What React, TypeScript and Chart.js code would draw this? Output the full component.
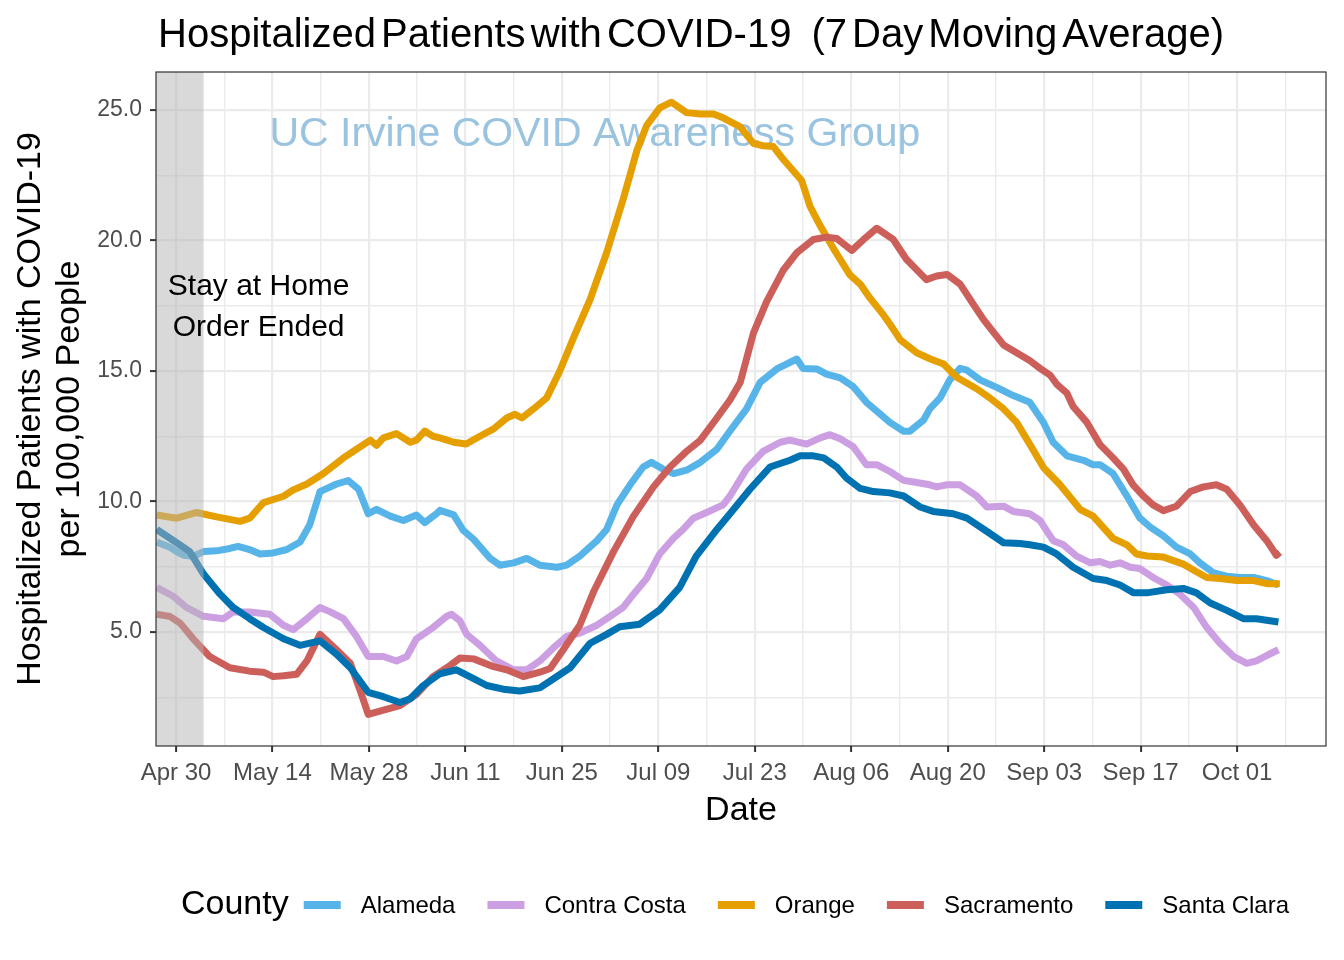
import React, { useEffect, useRef } from "react";
import { Chart, registerables } from "chart.js";

Chart.register(...registerables);

// x values are days since Apr 30, 2020
const xTickLabels = ["Apr 30", "May 14", "May 28", "Jun 11", "Jun 25", "Jul 09", "Jul 23", "Aug 06", "Aug 20", "Sep 03", "Sep 17", "Oct 01"];
const xTickDays = [0, 14, 28, 42, 56, 70, 84, 98, 112, 126, 140, 154];
const xMinorDays = [7, 21, 35, 49, 63, 77, 91, 105, 119, 133, 147, 161];
const yMajorTicks = [5, 10, 15, 20, 25];
const yMinorTicks = [2.5, 7.5, 12.5, 17.5, 22.5];

const counties = ["Alameda", "Contra Costa", "Orange", "Sacramento", "Santa Clara"];
const countyColors = ["#56B4E9", "#CC9FE3", "#E69F00", "#CD5F5A", "#0072B2"];

const alameda: [number, number][] = [
  [-2.8, 8.45], [-0.9, 8.25], [0.1, 8.08], [1.1, 7.94], [2.5, 7.9], [4.0, 8.08], [5.9, 8.11], [7.8, 8.2], [9.0, 8.28],
  [10.7, 8.16], [12.2, 7.99], [14.1, 8.03], [16.1, 8.16], [18.0, 8.45], [19.4, 9.1], [20.9, 10.38], [23.3, 10.67],
  [25.0, 10.8], [26.5, 10.47], [27.9, 9.53], [29.1, 9.7], [31.1, 9.44], [33.0, 9.27], [34.9, 9.48], [36.1, 9.19],
  [37.8, 9.53], [38.3, 9.66], [40.3, 9.49], [41.7, 8.89], [43.2, 8.55], [45.6, 7.82], [47.0, 7.56], [49.0, 7.65],
  [50.9, 7.82], [52.8, 7.56], [55.3, 7.48], [56.7, 7.56], [58.6, 7.91], [61.1, 8.5], [62.5, 8.93], [64.0, 9.87],
  [65.9, 10.64], [67.8, 11.32], [69.0, 11.5], [70.7, 11.24], [72.2, 11.07], [74.1, 11.2], [76.1, 11.5], [78.5, 12.0],
  [80.4, 12.7], [82.8, 13.55], [84.8, 14.57], [87.2, 15.08], [90.1, 15.46], [91.0, 15.1], [93.0, 15.08], [94.4, 14.88],
  [96.4, 14.74], [98.3, 14.4], [100.2, 13.8], [101.7, 13.46], [103.6, 13.03], [105.6, 12.69], [106.5, 12.69],
  [108.5, 13.12], [109.4, 13.55], [110.9, 13.97], [112.3, 14.66], [113.8, 15.1], [114.8, 15.03], [116.7, 14.66],
  [119.1, 14.37], [121.5, 14.06], [123.9, 13.8], [125.9, 13.03], [127.3, 12.27], [129.3, 11.75], [131.7, 11.58],
  [133.1, 11.41], [134.1, 11.41], [136.0, 11.07], [138.0, 10.21], [139.9, 9.36], [141.4, 9.02], [143.3, 8.68],
  [145.2, 8.25], [147.2, 7.99], [148.6, 7.65], [150.6, 7.26], [152.5, 7.14], [154.4, 7.09], [156.4, 7.09],
  [158.3, 6.97], [160.0, 6.8],
];

const contraCosta: [number, number][] = [
  [-2.8, 6.71], [-0.4, 6.37], [1.5, 5.94], [4.0, 5.6], [6.9, 5.51], [8.3, 5.77], [10.7, 5.77], [13.6, 5.68],
  [15.6, 5.26], [17.0, 5.09], [19.0, 5.51], [20.9, 5.94], [22.4, 5.77], [24.3, 5.51], [26.2, 4.83], [27.9, 4.06],
  [30.1, 4.06], [32.0, 3.89], [33.5, 4.06], [34.9, 4.74], [37.3, 5.17], [39.3, 5.6], [40.0, 5.68], [41.2, 5.43],
  [42.2, 4.91], [44.1, 4.49], [46.5, 3.89], [49.0, 3.55], [50.9, 3.55], [52.8, 3.89], [54.8, 4.4], [56.7, 4.83],
  [58.6, 4.96], [61.1, 5.26], [63.0, 5.6], [64.9, 5.94], [66.4, 6.45], [68.3, 7.05], [70.2, 7.99], [72.2, 8.59],
  [73.6, 8.93], [75.1, 9.36], [77.0, 9.58], [79.4, 9.87], [80.4, 10.21], [82.8, 11.24], [85.2, 11.92], [87.7, 12.27],
  [89.1, 12.35], [91.5, 12.2], [93.5, 12.44], [94.9, 12.56], [96.4, 12.4], [98.3, 12.1], [100.2, 11.41],
  [101.7, 11.41], [103.6, 11.15], [105.6, 10.81], [107.5, 10.73], [109.4, 10.64], [110.4, 10.56], [111.9, 10.64],
  [113.8, 10.64], [116.2, 10.21], [117.7, 9.79], [120.1, 9.82], [121.5, 9.62], [123.9, 9.53], [125.4, 9.27],
  [127.3, 8.5], [128.8, 8.34], [130.7, 7.91], [132.7, 7.65], [134.1, 7.7], [135.6, 7.56], [137.0, 7.65],
  [138.5, 7.48], [139.9, 7.43], [141.8, 7.09], [143.8, 6.8], [145.7, 6.45], [147.7, 5.94], [149.6, 5.17],
  [151.5, 4.57], [153.5, 4.06], [155.4, 3.8], [156.8, 3.89], [158.3, 4.1], [160.0, 4.32],
];

const orange: [number, number][] = [
  [-2.8, 9.48], [0.1, 9.36], [3.0, 9.58], [5.9, 9.41], [9.3, 9.24], [10.7, 9.36], [12.7, 9.96], [15.6, 10.2],
  [17.0, 10.44], [19.0, 10.67], [21.4, 11.07], [24.3, 11.67], [26.2, 12.0], [28.2, 12.35], [29.1, 12.15],
  [30.1, 12.44], [32.0, 12.6], [34.0, 12.27], [34.9, 12.35], [36.1, 12.7], [37.3, 12.5], [38.3, 12.44],
  [40.3, 12.27], [42.1, 12.2], [44.1, 12.5], [46.1, 12.78], [48.0, 13.2], [49.2, 13.34], [50.2, 13.2],
  [51.9, 13.55], [53.8, 13.97], [55.7, 15.0], [57.7, 16.28], [60.1, 17.74], [62.5, 19.53], [64.9, 21.58],
  [66.9, 23.46], [68.3, 24.4], [70.2, 25.08], [71.9, 25.3], [74.1, 24.9], [76.1, 24.85], [78.0, 24.85],
  [79.4, 24.7], [81.9, 24.35], [83.8, 23.72], [85.2, 23.63], [86.7, 23.6], [88.1, 23.12], [90.8, 22.3],
  [92.0, 21.32], [93.5, 20.56], [95.4, 19.7], [97.8, 18.68], [99.3, 18.33], [100.7, 17.8], [102.7, 17.14],
  [103.6, 16.8], [105.1, 16.2], [107.5, 15.7], [109.4, 15.47], [111.4, 15.27], [113.3, 14.76], [116.2, 14.32],
  [118.1, 13.97], [120.1, 13.55], [122.0, 13.03], [123.9, 12.2], [125.9, 11.3], [128.3, 10.64], [131.2, 9.7],
  [133.1, 9.44], [136.0, 8.59], [138.0, 8.34], [139.4, 7.99], [140.9, 7.91], [143.3, 7.87], [146.2, 7.6],
  [148.1, 7.31], [149.6, 7.09], [151.5, 7.05], [154.0, 6.97], [156.4, 6.97], [158.3, 6.85], [160.2, 6.85],
];

const sacramento: [number, number][] = [
  [-2.8, 5.68], [-0.9, 5.6], [0.6, 5.34], [2.5, 4.74], [4.9, 4.06], [7.8, 3.63], [10.7, 3.5], [12.7, 3.46],
  [14.1, 3.29], [15.6, 3.32], [17.5, 3.38], [19.0, 3.89], [20.9, 4.91], [23.3, 4.32], [25.3, 3.8], [26.7, 2.78],
  [27.9, 1.84], [30.1, 2.01], [32.5, 2.18], [34.9, 2.61], [37.3, 3.29], [39.8, 3.72], [41.2, 4.0], [43.2, 3.97],
  [46.1, 3.67], [48.0, 3.55], [50.4, 3.29], [52.8, 3.46], [54.3, 3.6], [56.2, 4.32], [58.6, 5.26], [60.6, 6.54],
  [63.5, 8.08], [66.4, 9.44], [69.3, 10.56], [71.7, 11.32], [74.1, 11.92], [76.1, 12.35], [78.5, 13.2],
  [80.4, 13.89], [81.9, 14.57], [83.8, 16.45], [85.7, 17.65], [88.1, 18.85], [90.1, 19.53], [92.5, 20.04],
  [94.4, 20.13], [95.9, 20.08], [98.1, 19.62], [99.8, 20.04], [101.7, 20.47], [104.1, 20.04], [106.0, 19.28],
  [108.9, 18.5], [110.4, 18.64], [111.9, 18.7], [113.8, 18.33], [115.7, 17.56], [117.2, 16.97], [118.6, 16.5],
  [120.1, 16.0], [122.0, 15.7], [123.9, 15.4], [125.4, 15.1], [126.9, 14.83], [127.8, 14.5], [129.3, 14.15],
  [130.2, 13.64], [132.2, 13.03], [134.1, 12.18], [136.0, 11.67], [137.5, 11.24], [138.9, 10.64], [140.4, 10.21],
  [141.8, 9.87], [143.3, 9.65], [145.2, 9.82], [147.2, 10.38], [149.1, 10.56], [151.0, 10.64], [152.5, 10.47],
  [154.4, 9.87], [156.4, 9.1], [158.3, 8.5], [159.7, 7.94], [160.2, 8.05],
];

const santaClara: [number, number][] = [
  [-2.8, 8.93], [0.1, 8.42], [2.0, 8.08], [4.0, 7.22], [6.4, 6.45], [8.3, 5.94], [10.7, 5.51], [12.7, 5.17],
  [15.6, 4.74], [18.0, 4.49], [20.9, 4.66], [23.3, 4.15], [25.3, 3.63], [27.9, 2.69], [30.1, 2.52], [32.5, 2.3],
  [34.0, 2.44], [35.9, 2.95], [38.3, 3.4], [40.7, 3.55], [43.2, 3.21], [45.1, 2.95], [47.5, 2.81], [49.9, 2.74],
  [52.8, 2.86], [54.8, 3.21], [57.2, 3.63], [60.1, 4.57], [62.5, 4.91], [64.4, 5.2], [67.3, 5.3], [70.2, 5.85],
  [73.1, 6.71], [75.5, 7.91], [78.5, 8.93], [80.4, 9.53], [83.3, 10.47], [86.2, 11.32], [89.1, 11.58],
  [90.6, 11.75], [92.5, 11.75], [94.0, 11.67], [95.9, 11.32], [97.3, 10.9], [99.3, 10.5], [101.2, 10.38],
  [103.6, 10.33], [105.6, 10.21], [108.0, 9.79], [109.9, 9.62], [112.8, 9.53], [114.8, 9.36], [117.7, 8.85],
  [120.1, 8.42], [122.5, 8.39], [123.9, 8.34], [125.9, 8.25], [127.8, 7.99], [130.2, 7.48], [133.1, 7.05],
  [135.1, 6.97], [137.0, 6.8], [139.0, 6.5], [140.9, 6.5], [143.8, 6.62], [146.2, 6.67], [148.1, 6.5],
  [150.1, 6.11], [152.5, 5.83], [154.9, 5.51], [156.8, 5.51], [160.0, 5.38],
];

const seriesData = [alameda, contraCosta, orange, sacramento, santaClara];

const titleMain = "Hospitalized Patients with COVID-19";
const titleSub = "(7 Day Moving Average)";
const yTitleLines = ["Hospitalized Patients with COVID-19", "per 100,000 People"];
const xTitleText = "Date";
const watermarkText = "UC Irvine COVID Awareness Group";
const annotationLines = ["Stay at Home", "Order Ended"];
const legendTitle = "County";
const stayAtHomeEndDay = 4;

const FONT = "'Liberation Sans', Arial, Helvetica, sans-serif";

const setWordSpacing = (ctx: any, v: string) => {
  try {
    ctx.wordSpacing = v;
  } catch (e) {
    /* ignore */
  }
};

const decorPlugin = {
  id: "decor",
  beforeDraw(chart: any) {
    const { ctx, width, height } = chart;
    ctx.save();
    ctx.fillStyle = "#ffffff";
    ctx.fillRect(0, 0, width, height);
    ctx.restore();
  },
  beforeDatasetsDraw(chart: any) {
    const { ctx, scales } = chart;
    ctx.save();
    ctx.font = `41px ${FONT}`;
    ctx.fillStyle = "#9AC3DF";
    ctx.textAlign = "center";
    ctx.textBaseline = "alphabetic";
    ctx.fillText(watermarkText, scales.x.getPixelForValue(60.8), scales.y.getPixelForValue(24.23) + 16);
    ctx.restore();
  },
  afterDatasetsDraw(chart: any) {
    const { ctx, chartArea, scales } = chart;
    ctx.save();
    // shaded stay-at-home period
    const xr = scales.x.getPixelForValue(stayAtHomeEndDay);
    ctx.fillStyle = "rgba(179,179,179,0.5)";
    ctx.fillRect(chartArea.left, chartArea.top, xr - chartArea.left, chartArea.bottom - chartArea.top);
    // annotation
    ctx.font = `30px ${FONT}`;
    ctx.fillStyle = "#000000";
    ctx.textAlign = "center";
    ctx.textBaseline = "middle";
    const ax = scales.x.getPixelForValue(12);
    const ay = scales.y.getPixelForValue(17.45);
    ctx.fillText(annotationLines[0], ax, ay - 20.5);
    ctx.fillText(annotationLines[1], ax, ay + 20.5);
    // panel border
    ctx.strokeStyle = "#333333";
    ctx.lineWidth = 1.2;
    ctx.strokeRect(chartArea.left, chartArea.top, chartArea.right - chartArea.left, chartArea.bottom - chartArea.top);
    ctx.restore();
  },
  afterDraw(chart: any) {
    const { ctx, chartArea } = chart;
    ctx.save();
    // title
    ctx.font = `40px ${FONT}`;
    ctx.fillStyle = "#000000";
    ctx.textAlign = "left";
    ctx.textBaseline = "alphabetic";
    setWordSpacing(ctx, "-6px");
    const tx = chartArea.left + 2;
    ctx.fillText(titleMain, tx, 47);
    const mainW = ctx.measureText(titleMain).width;
    ctx.fillText(titleSub, tx + mainW + 20, 47);
    setWordSpacing(ctx, "0px");
    // y title
    const cy = (chartArea.top + chartArea.bottom) / 2;
    ctx.font = `34px ${FONT}`;
    ctx.textAlign = "center";
    ctx.textBaseline = "middle";
    ctx.save();
    ctx.translate(31, cy);
    ctx.rotate(-Math.PI / 2);
    ctx.fillText(yTitleLines[0], 0, 0);
    ctx.restore();
    ctx.save();
    ctx.translate(70, cy);
    ctx.rotate(-Math.PI / 2);
    ctx.fillText(yTitleLines[1], 0, 0);
    ctx.restore();
    // x title
    ctx.fillText(xTitleText, (chartArea.left + chartArea.right) / 2, 811);
    // legend
    const keyW = 37;
    const gapTitle = 15;
    const gapKeyText = 20;
    const gapItem = 32;
    ctx.font = `34px ${FONT}`;
    const titleW = ctx.measureText(legendTitle).width;
    ctx.font = `24px ${FONT}`;
    const labelWs = counties.map((c) => ctx.measureText(c).width);
    let total = titleW + gapTitle;
    labelWs.forEach((w, i) => {
      total += keyW + gapKeyText + w + (i < labelWs.length - 1 ? gapItem : 0);
    });
    let lx = 735 - total / 2;
    const ly = 905;
    ctx.textAlign = "left";
    ctx.textBaseline = "middle";
    ctx.font = `34px ${FONT}`;
    ctx.fillText(legendTitle, lx, ly);
    lx += titleW + gapTitle;
    ctx.font = `24px ${FONT}`;
    counties.forEach((c, i) => {
      ctx.fillStyle = countyColors[i];
      ctx.fillRect(lx, ly - 4, keyW, 8);
      lx += keyW + gapKeyText;
      ctx.fillStyle = "#000000";
      ctx.fillText(c, lx, ly + 1);
      lx += labelWs[i] + gapItem;
    });
    ctx.restore();
  },
};

const xLabelFor = (v: number) => {
  const i = xTickDays.indexOf(v);
  return i >= 0 ? xTickLabels[i] : "";
};
const isXMajor = (v: number) => xTickDays.indexOf(v) >= 0;
const isYMajor = (v: number) => yMajorTicks.indexOf(v) >= 0;

export default function App() {
  const ref = useRef<HTMLCanvasElement | null>(null);
  useEffect(() => {
    document.body.style.margin = "0";
    const canvas = ref.current;
    if (!canvas) return;
    const datasets = counties.map((name, i) => ({
      label: name,
      data: seriesData[i].map(([x, y]) => ({ x, y })),
      borderColor: countyColors[i],
      backgroundColor: countyColors[i],
      borderWidth: 7,
      pointRadius: 0,
      tension: 0,
      fill: false,
      borderJoinStyle: "round" as const,
      borderCapStyle: "butt" as const,
      order: counties.length - 1 - i,
    }));
    const chart = new Chart(canvas, {
      type: "line",
      data: { datasets },
      plugins: [decorPlugin],
      options: {
        animation: false,
        responsive: false,
        devicePixelRatio: 1,
        layout: { padding: { top: 72, right: 18, left: 0, bottom: 0 } },
        plugins: { legend: { display: false }, tooltip: { enabled: false }, title: { display: false } },
        scales: {
          x: {
            type: "linear",
            min: -2.9,
            max: 166.9,
            afterBuildTicks: (scale: any) => {
              const vals = [...xTickDays, ...xMinorDays].sort((a, b) => a - b);
              scale.ticks = vals.map((v) => ({ value: v }));
            },
            afterFit: (scale: any) => {
              scale.height = 214;
            },
            ticks: {
              autoSkip: false,
              maxRotation: 0,
              minRotation: 0,
              padding: 7,
              color: "#4D4D4D",
              font: { family: FONT, size: 24 },
              callback: (v: any) => xLabelFor(Number(v)),
            },
            grid: {
              color: "#EBEBEB",
              lineWidth: (c: any) => (isXMajor(c.tick?.value) ? 2.2 : 1.4),
              tickColor: (c: any) => (isXMajor(c.tick?.value) ? "#333333" : "rgba(0,0,0,0)"),
              tickWidth: 2,
              tickLength: 6,
              drawTicks: true,
            },
            border: { display: false },
          },
          y: {
            type: "linear",
            min: 0.632,
            max: 26.456,
            afterBuildTicks: (scale: any) => {
              const vals = [...yMinorTicks, ...yMajorTicks].sort((a, b) => a - b);
              scale.ticks = vals.map((v) => ({ value: v }));
            },
            afterFit: (scale: any) => {
              scale.width = 156;
            },
            ticks: {
              autoSkip: false,
              padding: 8,
              color: "#4D4D4D",
              font: { family: FONT, size: 23 },
              callback: (v: any) => (isYMajor(Number(v)) ? Number(v).toFixed(1) : ""),
            },
            grid: {
              color: "#EBEBEB",
              lineWidth: (c: any) => (isYMajor(c.tick?.value) ? 2.2 : 1.4),
              tickColor: (c: any) => (isYMajor(c.tick?.value) ? "#333333" : "rgba(0,0,0,0)"),
              tickWidth: 2,
              tickLength: 6,
              drawTicks: true,
            },
            border: { display: false },
          },
        },
      },
    } as any);
    return () => chart.destroy();
  }, []);
  return (
    <div style={{ width: 1344, height: 960, background: "#fff" }}>
      <canvas ref={ref} width={1344} height={960} style={{ display: "block", width: 1344, height: 960 }} />
    </div>
  );
}
